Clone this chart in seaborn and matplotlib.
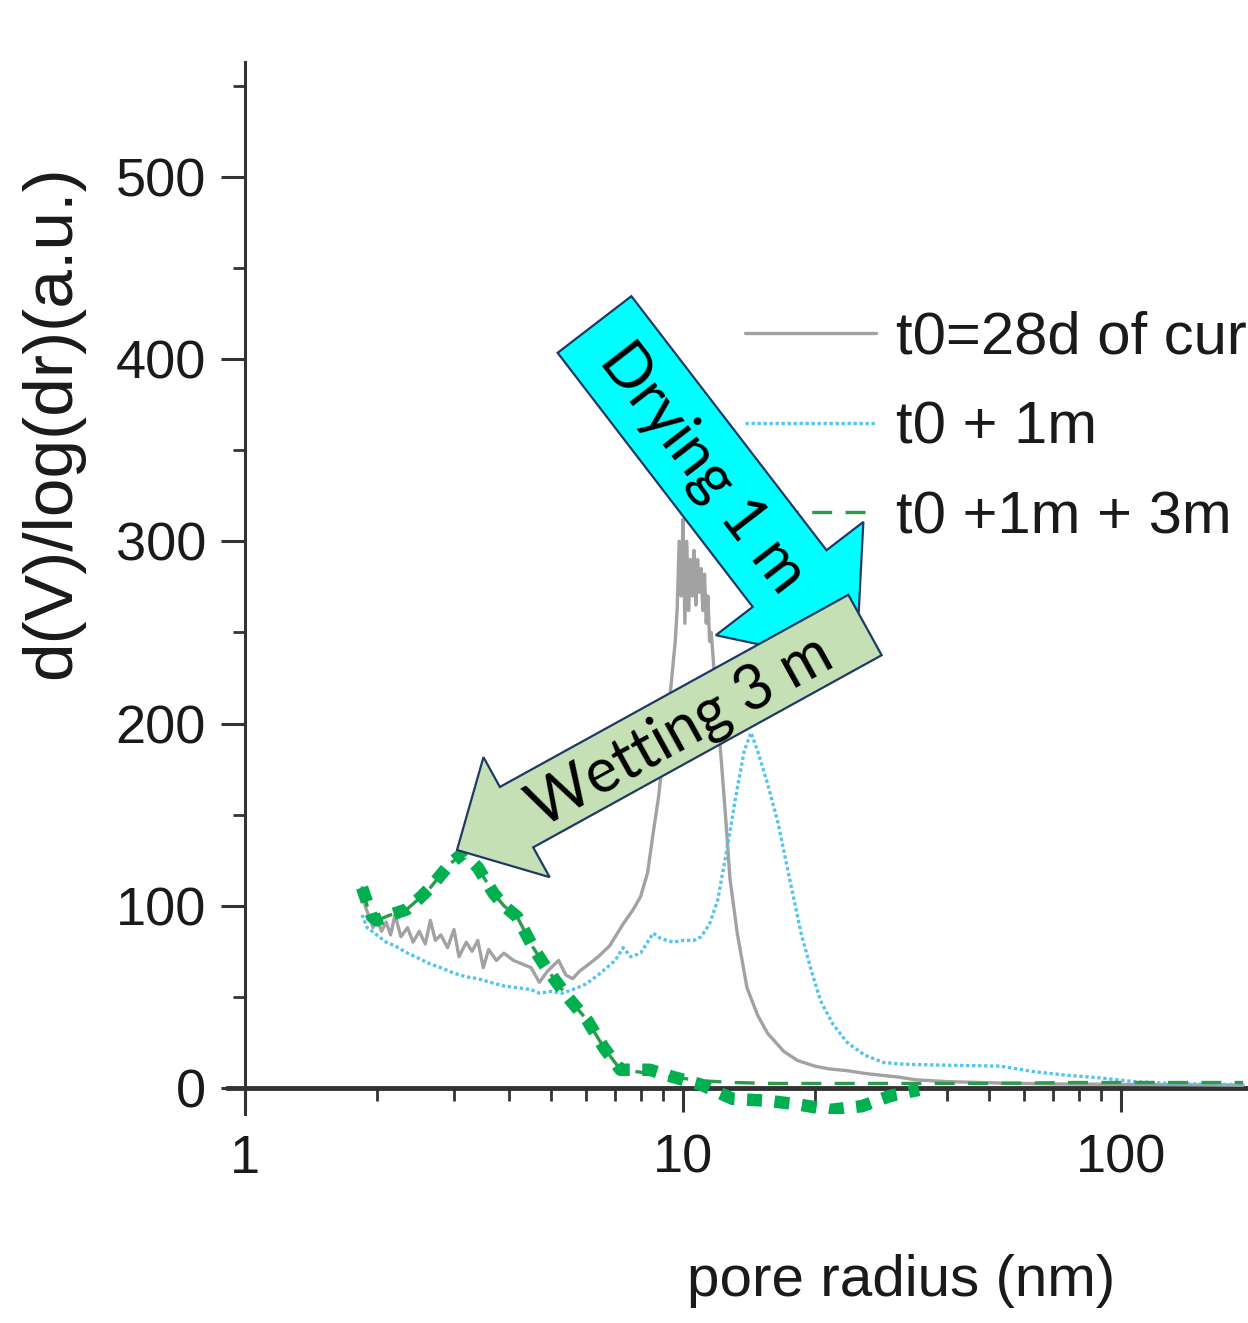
import numpy as np
import pandas as pd
import seaborn as sns
import matplotlib.pyplot as plt
import matplotlib.transforms as mtransforms
from matplotlib.patches import FancyArrow
from matplotlib.ticker import LogLocator, NullFormatter

# --- data ---
grey_r = [1.85, 1.88, 1.92, 1.96, 2.0, 2.05, 2.1, 2.15, 2.2, 2.27, 2.35, 2.42, 2.5, 2.58,
          2.65, 2.72, 2.8, 2.9, 3.0, 3.08, 3.2, 3.3, 3.4, 3.5, 3.6, 3.75, 3.9, 4.1, 4.3,
          4.5, 4.7, 4.9, 5.2, 5.4, 5.6, 5.8, 6.1, 6.4, 6.8, 7.3, 7.7, 8.0, 8.3, 8.55, 8.8,
          9.0, 9.2, 9.4, 9.6, 9.7, 9.8, 9.9, 10.0, 10.1, 10.2, 10.3, 10.4, 10.5, 10.6,
          10.7, 10.8, 10.9, 11.0, 11.1, 11.2, 11.3, 11.4, 11.5, 11.6, 11.8, 12.0, 12.2,
          12.5, 12.8, 13.3, 14.0, 14.8, 15.6, 17.0, 18.3, 20.0, 21.5, 23.7, 26.0, 28.3,
          31.0, 34.0, 40.0, 53.0, 70.0, 100.0, 140.0, 190.0]
grey_v = [110, 100, 94, 88, 93, 86, 91, 84, 95, 83, 88, 80, 86, 79,
          92, 81, 84, 77, 87, 72, 80, 75, 81, 66, 76, 70, 74, 70, 68,
          66, 58, 64, 70, 62, 60, 64, 68, 72, 78, 90, 98, 105, 118, 140, 160,
          183, 200, 222, 245, 263, 300, 270, 312, 255, 300, 262, 290, 270, 295,
          265, 290, 272, 285, 262, 282, 255, 270, 245, 250, 226, 205, 183,
          150, 115, 85, 55, 40, 30, 20, 15, 12, 10.5, 9.5, 8, 7,
          6, 4.5, 3.5, 2.7, 2.2, 2.0, 1.8, 1.5]

blue_r = [1.85, 1.9, 1.95, 2.0, 2.1, 2.2, 2.35, 2.5, 2.65, 2.8, 3.0, 3.2, 3.4, 3.63, 3.9,
          4.2, 4.5, 4.7, 5.0, 5.3, 5.6, 6.0, 6.4, 6.7, 7.0, 7.3, 7.6, 8.0, 8.3, 8.55, 8.9,
          9.5, 10.0, 10.6, 11.0, 11.5, 12.0, 12.6, 13.2, 13.8, 14.3, 14.8, 15.6, 16.5,
          17.3, 18.6, 19.6, 20.6, 22.0, 23.7, 26.0, 28.7, 32.0, 40.0, 53.0, 63.0, 75.0,
          90.0, 107.0, 130.0, 160.0, 190.0]
blue_v = [95, 88, 86, 84, 80, 78, 74, 71, 68, 66, 63, 61, 60, 58, 56,
          55, 54, 52, 53, 52, 54, 57, 62, 66, 70, 77, 72, 74, 80, 85, 82,
          80, 81, 81, 83, 90, 103, 131, 160, 185, 195, 185, 167, 145,
          121, 85, 65, 48, 35, 25, 18, 14, 13, 12.5, 12, 9, 7,
          5.5, 3.5, 2.5, 2, 2]

green_r = [1.85, 1.9, 1.95, 2.0, 2.15, 2.34, 2.5, 2.65, 2.8, 2.94, 3.15, 3.4, 3.69, 3.9,
           4.18, 4.55, 4.9, 5.45, 6.05, 6.6, 7.2, 7.8, 8.4, 9.5, 11.0, 13.0, 16.0, 20.0,
           30.0, 50.0, 80.0, 120.0, 190.0]
green_v = [110, 100, 94, 92, 95, 98, 104, 110, 117, 123, 129, 121, 107, 100,
           94, 77, 65, 50, 37, 22, 10, 9, 8, 6, 4, 3, 2.5, 2.5,
           2.5, 2.5, 3, 3, 3]

# hand-drawn highlight over the wetting curve
mark_r = [1.85, 1.95, 2.0, 2.15, 2.34, 2.5, 2.65, 2.8, 2.94, 3.15, 3.4, 3.69, 3.9, 4.18,
          4.55, 4.9, 5.45, 6.05, 6.6, 7.2, 7.8, 8.4, 9.5, 10.95, 13.0, 15.6, 18.3, 21.7,
          25.6, 30.0, 34.6]
mark_v = [110, 94, 92, 95, 98, 104, 110, 117, 123, 129, 121, 107, 100, 94,
          77, 65, 50, 37, 22, 10, 10, 10, 6, 2, -6, -7, -9, -12,
          -10, -4, -1]

labels = ['t0=28d of curing', 't0 + 1m', 't0 +1m + 3m']

W, H = 1248, 1323
sns.set_theme(style='ticks')
plt.rcParams['font.family'] = ['Liberation Sans', 'DejaVu Sans']


def fpx(x, y):
    # pixel position (from top-left) -> figure fraction
    return (x / W, 1 - y / H)


fig = plt.figure(figsize=(W / 100, H / 100), dpi=100, facecolor='white')
ax = fig.add_axes([228 / W, 1 - 1113.5 / H, (W - 228) / W, (1113.5 - 62) / H])
ax.set_facecolor('none')

df_grey = pd.DataFrame({'r': grey_r, 'v': grey_v})
df_blue = pd.DataFrame({'r': blue_r, 'v': blue_v})
df_green = pd.DataFrame({'r': green_r, 'v': green_v})
df_mark = pd.DataFrame({'r': mark_r, 'v': mark_v})

sns.lineplot(data=df_grey, x='r', y='v', ax=ax, color='#a2a2a2', lw=2.4, label=labels[0], zorder=2)
sns.lineplot(data=df_blue, x='r', y='v', ax=ax, color='#55c4ee', lw=2.4,
             linestyle=(0, (1, 0.8)), label=labels[1], zorder=2)
sns.lineplot(data=df_green, x='r', y='v', ax=ax, color='#2e9a4c', lw=2.4,
             linestyle=(0, (6, 4)), label=labels[2], zorder=2.5)
sns.lineplot(data=df_mark, x='r', y='v', ax=ax, color='#00b050', lw=9, sort=False,
             linestyle=(0, (1.2, 1.0)), dash_capstyle='butt', zorder=3)

ax.set_xscale('log')
ax.set_xlim(0.9145, 195)
ax.set_ylim(-14, 563)
ax.spines['left'].set_position(('data', 1))
ax.spines['bottom'].set_position(('data', 0))
ax.spines[['top', 'right']].set_visible(False)
ax.spines['left'].set_linewidth(2.2)
ax.spines['bottom'].set_linewidth(3.5)
for s in ('left', 'bottom'):
    ax.spines[s].set_color('#333333')
    ax.spines[s].set_zorder(1.5)

ax.set_xticks([1, 10, 100], labels=['1', '10', '100'])
ax.xaxis.set_minor_locator(LogLocator(base=10, subs=np.arange(2, 10)))
ax.xaxis.set_minor_formatter(NullFormatter())
ax.set_yticks(np.arange(0, 501, 100))
ax.set_yticks(np.arange(50, 600, 100), minor=True)
ax.tick_params(which='major', length=17, width=2.2, direction='out', color='#333333',
               labelsize=39, labelcolor='#1a1a1a')
ax.tick_params(which='minor', length=9, width=2.0, direction='out', color='#333333')
ax.tick_params(axis='x', which='major', pad=16)
ax.tick_params(axis='y', which='major', pad=11)

ax.set_xlabel('pore radius (nm)', fontsize=42, color='#1a1a1a')
ax.xaxis.set_label_coords(*fpx(901, 1254), transform=fig.transFigure)
ax.set_ylabel('d(V)/log(dr)(a.u.)', fontsize=50, color='#1a1a1a')
ax.yaxis.set_label_coords(*fpx(84, 422), transform=fig.transFigure)

handles, labs = ax.get_legend_handles_labels()
leg = ax.legend(handles[:3], labs[:3], loc='upper left', bbox_to_anchor=fpx(745, 311),
                bbox_transform=fig.transFigure, frameon=False, fontsize=43,
                handlelength=2.2, handletextpad=0.33, labelspacing=0.58,
                borderpad=0, borderaxespad=0)
for t in leg.get_texts():
    t.set_color('#1a1a1a')

# annotation arrows (display pixels, y up)
ident = mtransforms.IdentityTransform()
dry = FancyArrow(594.5, H - 324.5, 261.5, -340.5, width=93, head_width=186, head_length=109,
                 length_includes_head=True, fc='#00ffff', ec='#1f3864', lw=1.6,
                 transform=ident, zorder=5)
wet = FancyArrow(865, H - 625, -408, -225, width=69, head_width=137, head_length=68,
                 length_includes_head=True, fc='#c5e0b4', ec='#1f3864', lw=1.6,
                 transform=ident, zorder=6)
fig.add_artist(dry)
fig.add_artist(wet)
fig.text(*fpx(703, 468), 'Drying 1 m', rotation=-52.3, rotation_mode='anchor', ha='center',
         va='center', fontsize=44, family='Lato', color='black', zorder=7)
fig.text(*fpx(681, 731), 'Wetting 3 m', rotation=28.9, rotation_mode='anchor', ha='center',
         va='center', fontsize=44, family='Lato', color='black', zorder=7)

fig.savefig('out.png', dpi=100)
